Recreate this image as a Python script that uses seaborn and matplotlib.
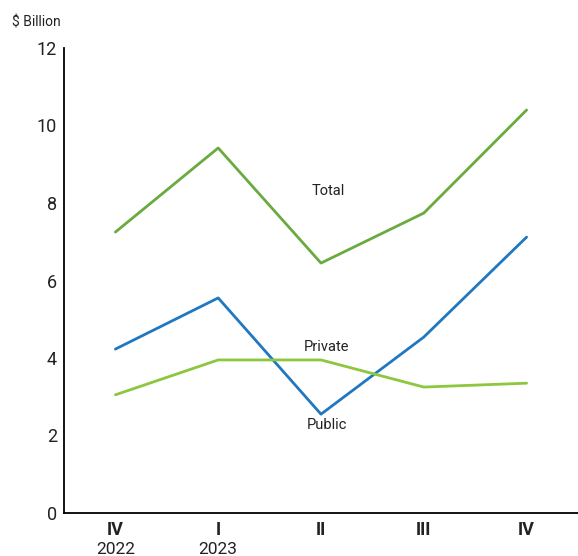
import pandas as pd
import matplotlib
matplotlib.use("Agg")
import matplotlib.pyplot as plt
import matplotlib.transforms as mtransforms
import seaborn as sns

# Chart data
quarters = ["IV", "I", "II", "III", "IV"]
years = ["2022", "2023", "", "", ""]
total = [7.25, 9.42, 6.45, 7.74, 10.4]
public = [4.23, 5.55, 2.55, 4.54, 7.12]
private = [3.05, 3.95, 3.95, 3.25, 3.35]

colors = {"Total": "#6aaa3f", "Public": "#1f78c0", "Private": "#8dc63f"}

df = pd.DataFrame({
    "pos": list(range(len(quarters))) * 3,
    "value": total + public + private,
    "series": ["Total"] * 5 + ["Public"] * 5 + ["Private"] * 5,
})

sns.set_style("white")
plt.rcParams["font.family"] = ["Roboto", "DejaVu Sans"]

fig = plt.figure(figsize=(5.78, 5.56), dpi=100)
ax = fig.add_axes([64 / 578, 43 / 556, 514 / 578, 465 / 556])

sns.lineplot(data=df, x="pos", y="value", hue="series", palette=colors,
             linewidth=2, legend=False, ax=ax)

ax.set_xlim(-0.5, 4.5)
ax.set_ylim(0, 12)
ax.set_yticks(range(0, 13, 2))
ax.set_yticklabels([str(v) for v in range(0, 13, 2)], fontsize=13, color="#222222")
ax.set_xticks(range(len(quarters)))
ax.set_xticklabels(quarters, fontsize=13, fontweight="bold", color="#222222")
ax.tick_params(axis="x", length=0, pad=6)
ax.tick_params(axis="y", length=0, pad=5)
ax.set_xlabel("")
ax.set_ylabel("")

for s in ["top", "right"]:
    ax.spines[s].set_visible(False)
for s in ["left", "bottom"]:
    ax.spines[s].set_color("black")
    ax.spines[s].set_linewidth(1.3)

# years below the quarter labels
trans = mtransforms.blended_transform_factory(ax.transData, ax.transAxes)
for i, yr in enumerate(years):
    if yr:
        ax.text(i, -0.062, yr, transform=trans, ha="center", va="top",
                fontsize=12.5, color="#222222")

# series labels
ax.text(2.07, 8.31, "Total", ha="center", va="center", fontsize=10.5, color="#222222")
ax.text(2.05, 4.28, "Private", ha="center", va="center", fontsize=10.5, color="#222222")
ax.text(2.06, 2.27, "Public", ha="center", va="center", fontsize=10.5, color="#222222")

fig.text(12 / 578, 1 - 22 / 556, "$ Billion", ha="left", va="center",
         fontsize=10, color="#222222")

fig.savefig("out.png", dpi=100)
